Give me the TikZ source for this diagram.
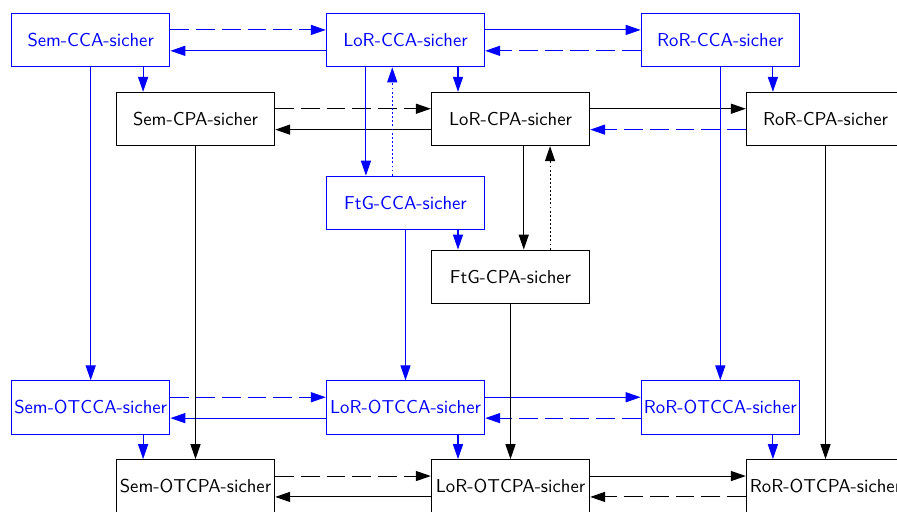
\documentclass[tikz,border=0pt]{standalone}
\usetikzlibrary{arrows.meta,calc}
\tikzset{
  secbox/.style={draw, minimum width=84.9pt, minimum height=28.6pt, inner sep=0.5pt,
    font=\sffamily, line width=0.55pt},
  cca/.style={secbox, draw=blue, text=blue},
  cpa/.style={secbox, draw=black, text=black},
  conn/.style={line width=0.55pt, -{Triangle[length=8pt,width=5.4pt]}},
  longdash/.style={dash pattern=on 10pt off 3.8pt},
  finedots/.style={dash pattern=on 1pt off 1.2pt},
}
\begin{document}
\begin{tikzpicture}[x=0.536pt, y=-0.536pt]
\useasboundingbox (0,0) rectangle (897,512);

% CCA / CPA boxes
\node[cca] (semcca) at (90.7,40.2) {Sem-CCA-sicher};
\node[cca] (lorcca) at (405.5,40.2) {LoR-CCA-sicher};
\node[cca] (rorcca) at (720.3,40.2) {RoR-CCA-sicher};
\node[cpa] (semcpa) at (195.5,119) {Sem-CPA-sicher};
\node[cpa] (lorcpa) at (510.5,119) {LoR-CPA-sicher};
\node[cpa] (rorcpa) at (825.5,119) {RoR-CPA-sicher};
\node[cca] (ftgcca) at (405.5,202.8) {FtG-CCA-sicher};
\node[cpa] (ftgcpa) at (510.5,276.7) {FtG-CPA-sicher};
% one-time variants
\node[cca] (semotcca) at (90.7,407.5) {Sem-OTCCA-sicher};
\node[cca] (lorotcca) at (405.5,407.5) {LoR-OTCCA-sicher};
\node[cca] (rorotcca) at (720.3,407.5) {RoR-OTCCA-sicher};
\node[cpa] (semotcpa) at (195.5,486.3) {Sem-OTCPA-sicher};
\node[cpa] (lorotcpa) at (510.5,486.3) {LoR-OTCPA-sicher};
\node[cpa] (rorotcpa) at (825.5,486.3) {RoR-OTCPA-sicher};

% horizontal pairs: upper goes right, lower goes left
\newcommand{\hpair}[5]{%
  \draw[conn,#3] ([yshift=5.5pt]#1.east) -- ([yshift=5.5pt]#2.west);
  \draw[conn,#4] ([yshift=-5.7pt]#2.west) -- ([yshift=-5.7pt]#1.east);
}
\hpair{semcca}{lorcca}{blue,longdash}{blue}{}
\hpair{lorcca}{rorcca}{blue}{blue,longdash}{}
\hpair{semcpa}{lorcpa}{black,longdash}{black}{}
\hpair{lorcpa}{rorcpa}{black}{blue,longdash}{}
\hpair{semotcca}{lorotcca}{blue,longdash}{blue}{}
\hpair{lorotcca}{rorotcca}{blue}{blue,longdash}{}
\hpair{semotcpa}{lorotcpa}{black,longdash}{black}{}
\hpair{lorotcpa}{rorotcpa}{black}{black,longdash}{}

% short CCA -> CPA arrows, at the middle of the overlap
\newcommand{\shortdown}[2]{%
  \coordinate (m) at ($(#1.east)!0.5!(#2.west)$);
  \draw[conn,blue] (#1.south -| m) -- (#2.north -| m);
}
\shortdown{semcca}{semcpa}
\shortdown{lorcca}{lorcpa}
\shortdown{rorcca}{rorcpa}
\shortdown{ftgcca}{ftgcpa}
\shortdown{semotcca}{semotcpa}
\shortdown{lorotcca}{lorotcpa}
\shortdown{rorotcca}{rorotcpa}

% long vertical arrows to the one-time notions
\draw[conn,blue] (semcca.south) -- (semotcca.north);
\draw[conn,black] (semcpa.south) -- (semotcpa.north);
\draw[conn,blue] (ftgcca.south) -- (lorotcca.north);
\draw[conn,black] (ftgcpa.south) -- (lorotcpa.north);
\draw[conn,blue] (rorcca.south) -- (rorotcca.north);
\draw[conn,black] (rorcpa.south) -- (rorotcpa.north);

% LoR <-> FtG
\draw[conn,blue] ([xshift=-21.2pt]lorcca.south) -- ([xshift=-21.2pt]ftgcca.north);
\draw[conn,blue,finedots] ([xshift=-7.1pt]ftgcca.north) -- ([xshift=-7.1pt]lorcca.south);
\draw[conn,black] ([xshift=7.1pt]lorcpa.south) -- ([xshift=7.1pt]ftgcpa.north);
\draw[conn,black,finedots] ([xshift=21.2pt]ftgcpa.north) -- ([xshift=21.2pt]lorcpa.south);
\end{tikzpicture}
\end{document}
